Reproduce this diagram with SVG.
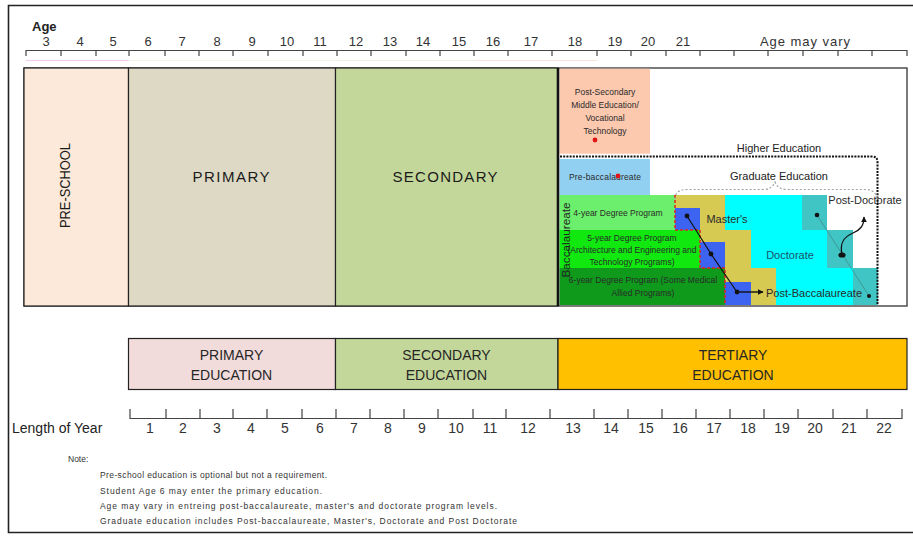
<svg xmlns="http://www.w3.org/2000/svg" width="913" height="536" viewBox="0 0 913 536">
  <style>
    text { font-family: "Liberation Sans", Arial, sans-serif; fill: #222; }
    .num { font-size: 13px; text-anchor: middle; fill: #333; }
    .bnum { font-size: 14px; text-anchor: middle; fill: #333; }
    .ruler { stroke: #444; stroke-width: 1.2; fill: none; }
    .cell { stroke: #222; stroke-width: 1.2; }
    .big { font-size: 15px; text-anchor: middle; fill: #1a1a1a; }
    .band { font-size: 14px; text-anchor: middle; fill: #262626; }
    .small { font-size: 8.5px; text-anchor: middle; fill: #2a2a2a; }
    .mid { font-size: 11px; text-anchor: middle; fill: #2b2b2b; }
    .note { font-size: 8.5px; fill: #333; }
    .olive { fill: #d6ca52; }
    .blue { fill: #3c64f0; }
    .cyan { fill: #00ffff; }
    .teal { fill: #40c4c4; }
    .dot { fill: #111; }
    .reddot { fill: #e01414; }
  </style>
  <defs>
    <marker id="arrow" viewBox="0 0 10 10" refX="9" refY="5" markerWidth="6" markerHeight="6" orient="auto" markerUnits="userSpaceOnUse">
      <path d="M0,0 L10,5 L0,10 z" fill="#111"/>
    </marker>
  </defs>

  <rect x="0" y="0" width="913" height="536" fill="#fff"/>
  <!-- frame -->
  <path d="M913,5.5 H8.5 V532.5 H913" fill="none" stroke="#222" stroke-width="1.6"/>

  <!-- age ruler -->
  <g id="age-ruler">
    <text x="32" y="31" font-size="13" font-weight="bold" fill="#222">Age</text>
    <path class="ruler" d="M26,50.5 H907 M26,50 V56 M61,50 V56 M96,50 V56 M129,50 V56 M165,50 V56 M199,50 V56 M233,50 V56 M268,50 V56 M303,50 V56 M337,50 V56 M371,50 V56 M406,50 V56 M440,50 V56 M474,50 V56 M508,50 V56 M552,50 V56 M597,50 V56 M631,50 V56 M666,50 V56 M700,50 V56 M734,50 V56 M768,50 V56 M803,50 V56 M838,50 V56 M872,50 V56 M907,50 V56"/>
    <text class="num" x="46" y="46">3</text>
    <text class="num" x="80" y="46">4</text>
    <text class="num" x="113" y="46">5</text>
    <text class="num" x="148" y="46">6</text>
    <text class="num" x="182" y="46">7</text>
    <text class="num" x="217" y="46">8</text>
    <text class="num" x="252" y="46">9</text>
    <text class="num" x="287" y="46">10</text>
    <text class="num" x="320" y="46">11</text>
    <text class="num" x="356" y="46">12</text>
    <text class="num" x="390" y="46">13</text>
    <text class="num" x="423" y="46">14</text>
    <text class="num" x="459" y="46">15</text>
    <text class="num" x="493" y="46">16</text>
    <text class="num" x="531" y="46">17</text>
    <text class="num" x="575" y="46">18</text>
    <text class="num" x="615" y="46">19</text>
    <text class="num" x="648" y="46">20</text>
    <text class="num" x="683" y="46">21</text>
    <text class="num" x="805" y="46" textLength="90">Age may vary</text>
    <!-- faint span guides -->
    <path d="M26,60.5 H129" stroke="#f6c8f4" stroke-width="1"/>
    <path d="M129,60.5 H337" stroke="#f4f4e8" stroke-width="1"/>
    <path d="M337,60.5 H474" stroke="#eaf2dc" stroke-width="1"/>
    <path d="M474,60.5 H597" stroke="#fde2da" stroke-width="1"/>
  </g>

  <!-- main panel -->
  <rect x="24" y="68" width="883" height="238" fill="#fff" stroke="#333" stroke-width="1.3"/>

  <g id="pre-school">
    <rect class="cell" x="24" y="68" width="104.5" height="238" fill="#fde9d9"/>
    <text class="big" transform="translate(69.5,185.5) rotate(-90)" textLength="85" lengthAdjust="spacingAndGlyphs">PRE-SCHOOL</text>
  </g>
  <g id="primary">
    <rect class="cell" x="128.5" y="68" width="207" height="238" fill="#ddd9c4"/>
    <text class="big" x="231" y="182" textLength="77">PRIMARY</text>
  </g>
  <g id="secondary">
    <rect class="cell" x="335.5" y="68" width="222.5" height="238" fill="#c4d79b"/>
    <text class="big" x="445" y="182" textLength="105">SECONDARY</text>
  </g>

  <g id="post-secondary">
    <rect x="559.5" y="68.7" width="90.5" height="85" fill="#fcc8ae"/>
    <text class="small" x="605" y="95">Post-Secondary</text>
    <text class="small" x="605" y="108">Middle Education/</text>
    <text class="small" x="605" y="121">Vocational</text>
    <text class="small" x="605" y="134">Technology</text>
    <circle class="reddot" cx="595" cy="140" r="2.4"/>
  </g>

  <g id="pre-baccalaureate">
    <rect x="559.5" y="159" width="90.5" height="36" fill="#92d0f2"/>
    <text class="small" x="605" y="180" textLength="72">Pre-baccalaureate</text>
    <circle class="reddot" cx="618" cy="176" r="2.4"/>
  </g>

  <g id="baccalaureate">
    <rect x="559.5" y="195" width="115.5" height="35" fill="#6cef6c"/>
    <rect x="559.5" y="230" width="140.5" height="38" fill="#10e810"/>
    <rect x="559.5" y="268" width="165.5" height="37" fill="#0f9a1c"/>
    <text class="small" x="618" y="216">4-year Degree Program</text>
    <text class="small" x="632" y="241">5-year Degree Program</text>
    <text class="small" x="632" y="253">(Architecture and Engineering and</text>
    <text class="small" x="632" y="265">Technology Programs)</text>
    <text class="small" x="643" y="283">6-year Degree Program (Some Medical</text>
    <text class="small" x="643" y="296">Allied Programs)</text>
    <text transform="translate(569.5,240) rotate(-90)" font-size="10.5" text-anchor="middle" fill="#222" textLength="75" lengthAdjust="spacingAndGlyphs">Baccalaureate</text>
  </g>

  <g id="doctorate">
    <rect class="cyan" x="725" y="195" width="77" height="35"/>
    <rect class="cyan" x="751" y="230" width="76" height="38"/>
    <rect class="cyan" x="776" y="268" width="77" height="37"/>
    <text class="mid" x="790" y="259" style="fill:#1f4f6a">Doctorate</text>
  </g>

  <g id="post-doctorate">
    <rect class="teal" x="802" y="195" width="25" height="35"/>
    <rect class="teal" x="827" y="230" width="26" height="38"/>
    <rect class="teal" x="853" y="268" width="25" height="37"/>
    <text class="mid" x="865" y="204">Post-Doctorate</text>
  </g>

  <g id="masters">
    <rect class="olive" x="675" y="195" width="50" height="35"/>
    <rect class="olive" x="700" y="230" width="51" height="38"/>
    <rect class="olive" x="725" y="268" width="51" height="37"/>
    <rect class="blue" x="675" y="208" width="25" height="22"/>
    <rect class="blue" x="700" y="242" width="25" height="26"/>
    <rect class="blue" x="725" y="282" width="26" height="23"/>
    <text class="mid" x="727" y="223">Master's</text>
  </g>

  <g id="post-baccalaureate">
    <text class="mid" x="814" y="297" fill="#1a1a1a">Post-Baccalaureate</text>
  </g>

  <!-- staircase edge between undergraduate and graduate levels -->
  <path d="M675,195 V230 H700 V268 H725 V305" fill="none" stroke="#e02020" stroke-width="1.5" stroke-dasharray="3 2"/>

  <g id="higher-education">
    <path d="M560,156.5 H872 Q877.5,156.5 877.5,162 V305" fill="none" stroke="#111" stroke-width="2" stroke-dasharray="2 1.2"/>
    <text x="779" y="152" font-size="11" text-anchor="middle" fill="#404040">Higher Education</text>
  </g>

  <g id="graduate-education">
    <path d="M675,199 Q675,189.5 687,189.5 H763 Q772,189.5 775,182 Q778,189.5 787,189.5 H865 Q876,189.5 877,199" fill="none" stroke="#a0a0a0" stroke-width="1.2" stroke-dasharray="2 2"/>
    <text x="779" y="180" font-size="11" text-anchor="middle" fill="#404040">Graduate Education</text>
  </g>

  <!-- column separator before tertiary -->
  <path d="M558,68 V306" stroke="#111" stroke-width="2.6"/>

  <g id="connectors">
    <polyline points="687,216 711,254 737,292" fill="none" stroke="#111" stroke-width="1.2"/>
    <line x1="737" y1="292" x2="763" y2="292" stroke="#111" stroke-width="1.4" marker-end="url(#arrow)"/>
    <line x1="817" y1="215" x2="869" y2="296" stroke="#3f8f8f" stroke-width="0.8"/>
    <path d="M842,254 C839,241 846,236 853,233 C860,230 864,226 864,217" fill="none" stroke="#111" stroke-width="1.3" marker-end="url(#arrow)"/>
    <circle class="dot" cx="687" cy="216" r="2.4"/>
    <circle class="dot" cx="711" cy="254" r="2.4"/>
    <circle class="dot" cx="737" cy="292" r="2.4"/>
    <circle class="dot" cx="817" cy="215" r="2.3"/>
    <ellipse class="dot" cx="842" cy="255" rx="3.6" ry="2.6"/>
    <circle class="dot" cx="869" cy="296" r="2"/>
  </g>

  <!-- education levels band -->
  <g id="primary-education">
    <rect class="cell" x="128.5" y="338.5" width="207" height="51" fill="#f2dcdb"/>
    <text class="band" x="231.5" y="360">PRIMARY</text>
    <text class="band" x="231.5" y="380">EDUCATION</text>
  </g>
  <g id="secondary-education">
    <rect class="cell" x="335.5" y="338.5" width="222.5" height="51" fill="#c4d79b"/>
    <text class="band" x="446.5" y="360">SECONDARY</text>
    <text class="band" x="446.5" y="380">EDUCATION</text>
  </g>
  <g id="tertiary-education">
    <rect class="cell" x="558" y="338.5" width="349" height="51" fill="#ffc000" stroke-width="1.5"/>
    <text class="band" x="733" y="360">TERTIARY</text>
    <text class="band" x="733" y="380">EDUCATION</text>
  </g>

  <!-- length of year ruler -->
  <g id="year-ruler">
    <text x="12" y="433" font-size="14" fill="#333">Length of Year</text>
    <path class="ruler" d="M130,418.5 H902 M130,409 V419 M166,409 V419 M200,409 V419 M233,409 V419 M267,409 V419 M302,409 V419 M336,409 V419 M370,409 V419 M404,409 V419 M438,409 V419 M473,409 V419 M506,409 V419 M550,409 V419 M594,409 V419 M628,409 V419 M662,409 V419 M696,409 V419 M730,409 V419 M764,409 V419 M798,409 V419 M833,409 V419 M867,409 V419 M902,409 V419"/>
    <text class="bnum" x="150" y="433">1</text>
    <text class="bnum" x="183" y="433">2</text>
    <text class="bnum" x="217" y="433">3</text>
    <text class="bnum" x="251" y="433">4</text>
    <text class="bnum" x="285" y="433">5</text>
    <text class="bnum" x="320" y="433">6</text>
    <text class="bnum" x="354" y="433">7</text>
    <text class="bnum" x="388" y="433">8</text>
    <text class="bnum" x="422" y="433">9</text>
    <text class="bnum" x="456" y="433">10</text>
    <text class="bnum" x="490" y="433">11</text>
    <text class="bnum" x="528" y="433">12</text>
    <text class="bnum" x="573" y="433">13</text>
    <text class="bnum" x="611" y="433">14</text>
    <text class="bnum" x="646" y="433">15</text>
    <text class="bnum" x="680" y="433">16</text>
    <text class="bnum" x="714" y="433">17</text>
    <text class="bnum" x="748" y="433">18</text>
    <text class="bnum" x="782" y="433">19</text>
    <text class="bnum" x="815" y="433">20</text>
    <text class="bnum" x="849" y="433">21</text>
    <text class="bnum" x="884" y="433">22</text>
  </g>

  <!-- notes -->
  <g id="notes">
    <text class="note" x="68" y="462">Note:</text>
    <text class="note" x="100" y="478" textLength="227">Pre-school education is optional but not a requirement.</text>
    <text class="note" x="100" y="494" textLength="222">Student Age 6 may enter the primary education.</text>
    <text class="note" x="100" y="509" textLength="397">Age may vary in entreing post-baccalaureate, master's and doctorate program levels.</text>
    <text class="note" x="100" y="524" textLength="417">Graduate education includes Post-baccalaureate, Master's, Doctorate and Post Doctorate</text>
  </g>
</svg>
